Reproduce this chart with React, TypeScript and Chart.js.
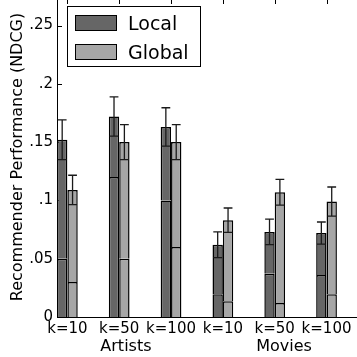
import React, { useEffect, useRef } from "react";
import { Chart, registerables } from "chart.js";
Chart.register(...registerables);

const categories = ["k=10", "k=50", "k=100", "k=10", "k=50", "k=100"];
const groupNames = ["Artists", "Movies"];
const groupLabelX = [1.13, 4.18];
const localTotal = [0.152, 0.172, 0.163, 0.062, 0.073, 0.072];
const localLower = [0.05, 0.12, 0.1, 0.0195, 0.037, 0.036];
const localErr = [0.017, 0.0168, 0.0165, 0.011, 0.011, 0.0095];
const globalTotal = [0.109, 0.15, 0.15, 0.083, 0.107, 0.099];
const globalLower = [0.03, 0.05, 0.06, 0.0135, 0.012, 0.0195];
const globalErr = [0.0126, 0.015, 0.015, 0.0105, 0.011, 0.0125];
const yTicks = [0, 0.05, 0.1, 0.15, 0.2, 0.25];
const yTickLabels = ["0", ".05", ".1", ".15", ".2", ".25"];
const seriesNames = ["Local", "Global"];
const yTitle = "Recommender Performance (NDCG)";

const DARK = "#666666";
const LIGHT = "#a6a6a6";
const FONT = "'DejaVu Sans', sans-serif";

export default function App() {
  const ref = useRef<HTMLCanvasElement | null>(null);
  useEffect(() => {
    if (!ref.current) return;
    const pts = (arr: number[]) => arr.map((v, i) => ({ x: i, y: v }));
    const barBase = {
      borderColor: "#000",
      borderWidth: 1.5,
      borderSkipped: "start" as const,
    };
    const extras = {
      id: "extras",
      beforeDatasetsDraw(chart: any) {
        const ctx = chart.ctx;
        const { left, top } = chart.chartArea;
        const ys = chart.scales.y;
        const xs = chart.scales.x;
        ctx.save();
        ctx.strokeStyle = "#000";
        ctx.lineWidth = 1;
        yTicks.forEach((v) => {
          const py = Math.round(ys.getPixelForValue(v)) + 0.5;
          ctx.beginPath();
          ctx.moveTo(left, py);
          ctx.lineTo(left + 5, py);
          ctx.stroke();
        });
        categories.forEach((_, i) => {
          const px = Math.round(xs.getPixelForValue(i)) + 0.5;
          ctx.beginPath();
          ctx.moveTo(px, top);
          ctx.lineTo(px, top + 4);
          ctx.stroke();
        });
        ctx.restore();
      },
      afterDatasetsDraw(chart: any) {
        const ctx = chart.ctx;
        const ys = chart.scales.y;
        ctx.save();
        ctx.strokeStyle = "#1a1a1a";
        ctx.lineWidth = 1.3;
        const drawErr = (dsIndex: number, totals: number[], errs: number[]) => {
          const meta = chart.getDatasetMeta(dsIndex);
          meta.data.forEach((el: any, i: number) => {
            const x = el.x;
            const y1 = ys.getPixelForValue(totals[i] + errs[i]);
            const y2 = ys.getPixelForValue(totals[i] - errs[i]);
            ctx.beginPath();
            ctx.moveTo(x, y1);
            ctx.lineTo(x, y2);
            ctx.moveTo(x - 4.4, y1);
            ctx.lineTo(x + 4.4, y1);
            ctx.moveTo(x - 4.4, y2);
            ctx.lineTo(x + 4.4, y2);
            ctx.stroke();
          });
        };
        drawErr(1, localTotal, localErr);
        drawErr(3, globalTotal, globalErr);
        ctx.restore();
      },
      afterDraw(chart: any) {
        const ctx = chart.ctx;
        const xs = chart.scales.x;
        ctx.save();
        ctx.fillStyle = "#000";
        ctx.font = `16px ${FONT}`;
        ctx.textAlign = "center";
        ctx.textBaseline = "alphabetic";
        ctx.save();
        ctx.translate(21.5, 157);
        ctx.rotate(-Math.PI / 2);
        ctx.fillText(yTitle, 0, 0);
        ctx.restore();
        groupNames.forEach((g, i) => {
          ctx.fillText(g, xs.getPixelForValue(groupLabelX[i]), 351);
        });
        ctx.fillStyle = "#fff";
        ctx.strokeStyle = "#000";
        ctx.lineWidth = 1;
        ctx.fillRect(67.5, 6.5, 133, 60);
        ctx.strokeRect(67.5, 6.5, 133, 60);
        const cols = [DARK, LIGHT];
        const sy = [15.5, 44.5];
        const ty = [30, 59];
        ctx.font = `19px ${FONT}`;
        ctx.textAlign = "left";
        seriesNames.forEach((n, i) => {
          ctx.fillStyle = cols[i];
          ctx.fillRect(75.5, sy[i], 41, 15);
          ctx.strokeRect(75.5, sy[i], 41, 15);
          ctx.fillStyle = "#000";
          ctx.fillText(n, 128, ty[i]);
        });
        ctx.restore();
      },
    };
    const chart = new Chart(ref.current, {
      type: "bar",
      data: {
        datasets: [
          { ...barBase, label: seriesNames[0], data: pts(localLower), backgroundColor: DARK, stack: "L" },
          { ...barBase, label: seriesNames[0], data: pts(localTotal.map((t, i) => t - localLower[i])), backgroundColor: DARK, stack: "L" },
          { ...barBase, label: seriesNames[1], data: pts(globalLower), backgroundColor: LIGHT, stack: "G" },
          { ...barBase, label: seriesNames[1], data: pts(globalTotal.map((t, i) => t - globalLower[i])), backgroundColor: LIGHT, stack: "G" },
        ],
      },
      options: {
        responsive: false,
        animation: false,
        devicePixelRatio: 1,
        layout: { padding: 0 },
        datasets: { bar: { barPercentage: 1, categoryPercentage: 0.4 } },
        plugins: { legend: { display: false }, tooltip: { enabled: false } },
        scales: {
          x: {
            type: "linear",
            offset: false,
            min: -0.2,
            max: 5.8,
            grid: { display: false, offset: false, drawTicks: false },
            border: { display: true, color: "#000", width: 1 },
            afterBuildTicks: (s: any) => {
              s.ticks = categories.map((_, i) => ({ value: i }));
            },
            afterFit: (s: any) => {
              s.height = 40;
              s.paddingLeft = 0;
              s.paddingRight = 0;
              s.paddingTop = 0;
              s.paddingBottom = 0;
            },
            ticks: {
              autoSkip: false,
              maxRotation: 0,
              minRotation: 0,
              padding: 3,
              color: "#000",
              font: { family: FONT, size: 15 },
              callback: (v: any) => categories[Math.round(Number(v))] ?? "",
            },
          },
          y: {
            type: "linear",
            min: 0,
            max: 0.2719,
            grid: { display: false, drawTicks: false },
            border: { display: true, color: "#000", width: 1 },
            afterBuildTicks: (s: any) => {
              s.ticks = yTicks.map((v) => ({ value: v }));
            },
            afterFit: (s: any) => {
              s.width = 57;
              s.paddingLeft = 0;
              s.paddingRight = 0;
              s.paddingTop = 0;
              s.paddingBottom = 0;
            },
            ticks: {
              padding: 4,
              color: "#000",
              font: { family: FONT, size: 15 },
              callback: (v: any) => {
                const idx = yTicks.findIndex((t) => Math.abs(t - Number(v)) < 1e-6);
                return idx >= 0 ? yTickLabels[idx] : "";
              },
            },
          },
        },
      },
      plugins: [extras],
    } as any);
    return () => chart.destroy();
  }, []);
  return (
    <div style={{ position: "fixed", left: 0, top: 0, width: 368, height: 357 }}>
      <canvas ref={ref} width={368} height={357} style={{ display: "block" }} />
    </div>
  );
}
